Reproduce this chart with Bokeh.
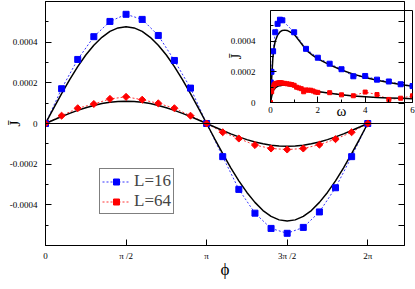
import numpy as np
from bokeh.plotting import figure
from bokeh.models import (Range1d, LinearAxis, FixedTicker, Span, Legend, LegendItem,
                          PrintfTickFormatter)
from bokeh.layouts import column
from bokeh.embed import file_html
from bokeh.resources import INLINE

PI = np.pi

# ---------------- main panel data ----------------
phi = [k * PI / 10 for k in range(21)]
J_L16 = [0.0, 0.000171, 0.000315, 0.000427, 0.000502, 0.000537, 0.000512, 0.000433, 0.000310, 0.000174, 0.0,
         -0.000163, -0.000324, -0.000441, -0.000516, -0.000540, -0.000511, -0.000435, -0.000316, -0.000163, 0.0]
J_L64 = [0.0, 0.0000384, 0.0000751, 0.0000959, 0.000121, 0.000131, 0.000117, 0.0000991, 0.0000751, 0.0000384, 0.0,
         -0.000043, -0.000074, -0.000106, -0.000123, -0.000128, -0.000123, -0.000104, -0.000077, -0.000043, 0.0]

phi_fine = [k * PI / 20 for k in range(41)]
theory_L16 = [0.0, 0.0000745, 0.000147, 0.000216, 0.000280, 0.000337, 0.000385, 0.000424, 0.000453, 0.000470,
              0.000476, 0.000470, 0.000453, 0.000424, 0.000385, 0.000337, 0.000280, 0.000216, 0.000147, 0.0000745,
              0.0, -0.0000751, -0.000148, -0.000218, -0.000282, -0.000339, -0.000388, -0.000428, -0.000457,
              -0.000474, -0.000480, -0.000474, -0.000457, -0.000428, -0.000388, -0.000339, -0.000282, -0.000218,
              -0.000148, -0.0000751, 0.0]
theory_L64 = [0.0, 0.0000172, 0.000034, 0.0000499, 0.0000647, 0.0000778, 0.000089, 0.000098, 0.0001046, 0.0001086,
              0.000110, 0.0001086, 0.0001046, 0.000098, 0.000089, 0.0000778, 0.0000647, 0.0000499, 0.000034,
              0.0000172, 0.0, -0.0000175, -0.0000346, -0.0000508, -0.0000658, -0.0000792, -0.0000906, -0.0000998,
              -0.0001065, -0.0001106, -0.000112, -0.0001106, -0.0001065, -0.0000998, -0.0000906, -0.0000792,
              -0.0000658, -0.0000508, -0.0000346, -0.0000175, 0.0]

phi_ticks = [0.0, PI / 2, PI, 3 * PI / 2, 2 * PI]
phi_tick_labels = ["0", "π /2", "π", "3π /2", "2π"]
J_major = [-0.0004, -0.0002, 0.0, 0.0002, 0.0004]
J_minor = [-0.0006, -0.0005, -0.0003, -0.0001, 0.0001, 0.0003, 0.0005, 0.0006]
J_right = [-0.0005, -0.0004, -0.0003, -0.0002, -0.0001, 0.0, 0.0001, 0.0002, 0.0003, 0.0004, 0.0005]

# ---------------- inset data ----------------
omega_L16 = [0.01, 0.04, 0.11, 0.2, 0.3, 0.4, 0.5, 1.0, 1.5, 2.0, 2.5, 3.0, 3.5, 4.0, 4.5, 5.0, 5.5, 6.0]
Jw_L16 = [0.000131, 0.000200, 0.000334, 0.000458, 0.000513, 0.000540, 0.000536, 0.000458, 0.000350, 0.000292,
          0.000253, 0.000217, 0.000171, 0.000173, 0.000149, 0.000137, 0.000119, 0.000107]
omega_L64 = [0.0, 0.05, 0.1, 0.15, 0.2, 0.25, 0.3, 0.35, 0.4, 0.45, 0.5, 0.6, 0.7, 0.8, 0.9, 1.0, 1.1, 1.2,
             1.3, 1.4, 1.5, 1.6, 1.7, 1.8, 1.9, 2.0, 2.5, 3.0, 3.5, 4.0, 4.5, 5.0, 5.5, 6.0]
Jw_L64 = [0.0, 0.000070, 0.000100, 0.000115, 0.000122, 0.000125, 0.000127, 0.000128, 0.000129, 0.000128,
          0.000127, 0.000125, 0.000122, 0.000120, 0.000117, 0.000112, 0.000100, 0.000095, 0.000090, 0.000070,
          0.000082, 0.000080, 0.000080, 0.000075, 0.000068, 0.000066, 0.000064, 0.000050, 0.000044, 0.000068,
          0.000052, 0.000020, 0.000028, 0.000044]
omega_th = [0.0, 0.05, 0.1, 0.15, 0.2, 0.3, 0.4, 0.5, 0.6, 0.7, 0.8, 1.0, 1.2, 1.4, 1.6, 1.8, 2.0, 2.5, 3.0,
            3.5, 4.0, 4.5, 5.0, 5.5, 6.0]
Jw_th16 = [0.0, 0.000160, 0.000290, 0.000360, 0.000400, 0.000440, 0.000460, 0.000470, 0.000472, 0.000470,
           0.000462, 0.000445, 0.000405, 0.000365, 0.000330, 0.000305, 0.000285, 0.000245, 0.000212, 0.000185,
           0.000163, 0.000145, 0.000130, 0.000117, 0.000106]
Jw_th64 = [0.0, 0.000040, 0.000070, 0.000085, 0.000095, 0.000105, 0.000110, 0.000112, 0.000113, 0.000112,
           0.000110, 0.000105, 0.000098, 0.000090, 0.000083, 0.000077, 0.000071, 0.000060, 0.000050, 0.000043,
           0.000038, 0.000033, 0.000030, 0.000027, 0.000024]
w_major = [0, 2, 4, 6]
w_minor = [1, 3, 5]
Jw_major = [0.0, 0.0002, 0.0004]
Jw_minor = [0.0001, 0.0003, 0.0005]

SERIF = "Liberation Serif"
BLUE = "#0000ff"
RED = "#ff0000"


def style_axis(ax, label_size="9px", standoff=4):
    ax.axis_line_color = "black"
    ax.major_tick_in = 6
    ax.major_tick_out = 0
    ax.minor_tick_in = 3
    ax.minor_tick_out = 0
    ax.major_tick_line_color = "black"
    ax.minor_tick_line_color = "black"
    ax.major_label_text_font = SERIF
    ax.major_label_text_font_size = label_size
    ax.major_label_text_color = "black"
    ax.major_label_standoff = standoff
    ax.axis_label_text_font = SERIF
    ax.axis_label_text_font_style = "normal"
    ax.axis_label_text_color = "black"


# ---------------- main figure ----------------
p = figure(width=407, height=281, x_range=Range1d(0, 7.0), y_range=Range1d(-0.0006, 0.0006),
           output_backend="svg", toolbar_location=None,
           min_border_left=36, min_border_right=2, min_border_top=1, min_border_bottom=34)
p.xgrid.visible = False
p.ygrid.visible = False
p.outline_line_color = "black"
p.outline_line_alpha = 1.0
p.background_fill_color = "white"
p.border_fill_color = "white"

xa = p.xaxis[0]
xa.ticker = FixedTicker(ticks=phi_ticks, minor_ticks=[])
xa.major_label_overrides = {float(t): s for t, s in zip(phi_ticks, phi_tick_labels)}
style_axis(xa, standoff=5)
xa.axis_label = "ϕ"
xa.axis_label_text_font_size = "17px"
xa.axis_label_text_line_height = 0.9
xa.axis_label_standoff = -4

ya = p.yaxis[0]
ya.ticker = FixedTicker(ticks=J_major, minor_ticks=J_minor)
ya.formatter = PrintfTickFormatter(format="%g")
style_axis(ya, standoff=8)
ya.axis_label = "J\u0304"
ya.axis_label_text_font_size = "15px"
ya.axis_label_standoff = -16

# mirror ticks on the right (drawn as unlabelled minor ticks)
ra = LinearAxis(ticker=FixedTicker(ticks=[], minor_ticks=J_right))
style_axis(ra)
ra.minor_tick_in = 6
ra.major_label_standoff = 0
p.add_layout(ra, "right")

p.add_layout(Span(location=0, dimension="width", line_color="black", line_width=1))

l16 = p.line(phi, J_L16, line_color=BLUE, line_width=1, line_dash="2 2", line_alpha=0.8)
l64 = p.line(phi, J_L64, line_color=RED, line_width=1, line_dash="2 2", line_alpha=0.8)
p.line(phi_fine, theory_L16, line_color="black", line_width=1.5)
p.line(phi_fine, theory_L64, line_color="black", line_width=1.5)
s16 = p.scatter(phi, J_L16, marker="square", size=6, fill_color=BLUE, line_color=BLUE)
s64 = p.scatter(phi, J_L64, marker="square", angle=PI / 4, size=5, fill_color=RED, line_color=RED)

legend = Legend(items=[LegendItem(label="L=16", renderers=[l16, s16]),
                       LegendItem(label="L=64", renderers=[l64, s64])],
                location=(54, 31))
legend.label_text_font = SERIF
legend.label_text_font_size = "17px"
legend.border_line_color = "black"
legend.border_line_width = 1
legend.background_fill_color = "white"
legend.background_fill_alpha = 1.0
legend.padding = 2
legend.spacing = 0
legend.margin = 0
legend.glyph_width = 28
legend.glyph_height = 15
legend.label_height = 15
legend.label_standoff = 4
p.add_layout(legend)

# ---------------- inset figure ----------------
inset = figure(width=190, height=117, x_range=Range1d(0, 6), y_range=Range1d(0, 0.0006),
               output_backend="svg", toolbar_location=None,
               min_border_left=44, min_border_right=3, min_border_top=1, min_border_bottom=24)
inset.xgrid.visible = False
inset.ygrid.visible = False
inset.outline_line_color = "black"
inset.background_fill_alpha = 0.0
inset.border_fill_alpha = 0.0

ixa = inset.xaxis[0]
ixa.ticker = FixedTicker(ticks=w_major, minor_ticks=w_minor)
style_axis(ixa, standoff=4)
ixa.axis_label = "ω"
ixa.axis_label_text_font_size = "15px"
ixa.axis_label_standoff = -13

iya = inset.yaxis[0]
iya.ticker = FixedTicker(ticks=Jw_major, minor_ticks=Jw_minor)
iya.formatter = PrintfTickFormatter(format="%g")
style_axis(iya, standoff=15)
iya.axis_label = "J\u0304"
iya.axis_label_text_font_size = "14px"
iya.axis_label_standoff = -16

inset.line(omega_L16, Jw_L16, line_color=BLUE, line_width=1, line_dash="2 2", line_alpha=0.8)
inset.line(omega_L64, Jw_L64, line_color=RED, line_width=1, line_dash="2 2", line_alpha=0.8)
inset.line(omega_th, Jw_th16, line_color="black", line_width=1.5)
inset.line(omega_th, Jw_th64, line_color="black", line_width=1.5)
inset.scatter(omega_L16, Jw_L16, marker="square", size=5, fill_color=BLUE, line_color=BLUE)
inset.scatter(omega_L64, Jw_L64, marker="square", size=4, fill_color=RED, line_color=RED)

inset.styles = {"position": "absolute", "left": "225px", "top": "9px", "z-index": "10"}

layout = column(p, inset)

open("out.html", "w").write(file_html(layout, INLINE))
